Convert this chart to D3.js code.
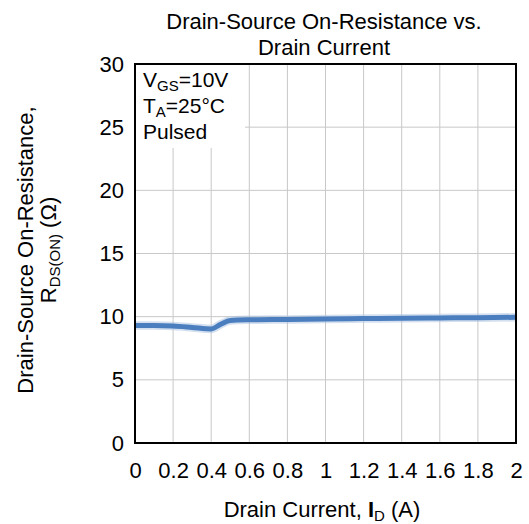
<!DOCTYPE html>
<html>
<head>
<meta charset="utf-8">
<script src="https://cdn.jsdelivr.net/npm/d3@7"></script>
<style>
  body { margin: 0; background: #fff; }
  svg text { font-family: "Liberation Sans", Arial, sans-serif; fill: #000; }
  .grid line { stroke: #c8c8c8; stroke-width: 1; }
</style>
</head>
<body>
<svg class="chart" width="529" height="524"></svg>
<script>
// drain current (A) vs on-resistance (ohm)
var current = [0, 0.1, 0.2, 0.3, 0.4, 0.45, 0.5, 0.6, 0.8, 1.0, 1.2, 1.4, 1.6, 1.8, 2.0];
var resistance = [9.3, 9.3, 9.26, 9.15, 9.03, 9.4, 9.7, 9.75, 9.78, 9.82, 9.85, 9.88, 9.9, 9.92, 9.95];
var xTicks = [0, 0.2, 0.4, 0.6, 0.8, 1, 1.2, 1.4, 1.6, 1.8, 2];
var yTicks = [0, 5, 10, 15, 20, 25, 30];

var svg = d3.select(".chart");
var pLeft = 135, pRight = 516, pTop = 64, pBottom = 443;
var fs = 22, sub = 15;

var x = d3.scaleLinear().domain([0, 2]).range([pLeft, pRight]);
var y = d3.scaleLinear().domain([0, 30]).range([pBottom, pTop]);

// grid
var grid = svg.append("g").attr("class", "grid");
grid.selectAll("line.v")
    .data(xTicks.slice(1, -1))
    .enter().append("line")
      .attr("x1", function(d){ return x(d); })
      .attr("x2", function(d){ return x(d); })
      .attr("y1", pTop)
      .attr("y2", pBottom);
grid.selectAll("line.h")
    .data(yTicks.slice(1, -1))
    .enter().append("line")
      .attr("x1", pLeft)
      .attr("x2", pRight)
      .attr("y1", function(d){ return y(d); })
      .attr("y2", function(d){ return y(d); });

// white box behind the conditions text
svg.append("rect")
   .attr("x", pLeft + 1).attr("y", pTop + 1)
   .attr("width", 109).attr("height", 83)
   .attr("fill", "#fff");

// curve
var line = d3.line()
             .x(function(d, i){ return x(current[i]); })
             .y(function(d){ return y(d); })
             .curve(d3.curveMonotoneX);

svg.append("path")
   .datum(resistance)
   .attr("d", line)
   .attr("fill", "none")
   .attr("stroke", "#a9c1e0")
   .attr("stroke-width", 8.5)
   .attr("stroke-opacity", 0.5)
   .attr("stroke-linejoin", "round");
svg.append("path")
   .datum(resistance)
   .attr("d", line)
   .attr("fill", "none")
   .attr("stroke", "#4a7ebf")
   .attr("stroke-width", 5)
   .attr("stroke-linejoin", "round");

// frame
svg.append("rect")
   .attr("x", pLeft).attr("y", pTop)
   .attr("width", pRight - pLeft).attr("height", pBottom - pTop)
   .attr("fill", "none")
   .attr("stroke", "#000")
   .attr("stroke-width", 2);

// axes (labels only)
var xAxis = svg.append("g")
   .attr("transform", "translate(0," + pBottom + ")")
   .call(d3.axisBottom(x).tickValues(xTicks).tickSize(0).tickPadding(19)
           .tickFormat(function(d){ return String(d); }));
var yAxis = svg.append("g")
   .attr("transform", "translate(" + pLeft + ",0)")
   .call(d3.axisLeft(y).tickValues(yTicks).tickSize(0).tickPadding(11));
[xAxis, yAxis].forEach(function(a){
  a.select(".domain").remove();
  a.selectAll("text").attr("font-size", fs).attr("font-family", "Liberation Sans, Arial, sans-serif");
});

// title
svg.append("text").attr("x", 324).attr("y", 29).attr("text-anchor", "middle")
   .attr("font-size", fs).text("Drain-Source On-Resistance vs.");
svg.append("text").attr("x", 324).attr("y", 55).attr("text-anchor", "middle")
   .attr("font-size", fs).text("Drain Current");

// conditions
var cond = svg.append("g").attr("font-size", 21);
var t1 = cond.append("text").attr("x", 143).attr("y", 87);
t1.append("tspan").text("V");
t1.append("tspan").attr("font-size", sub).attr("dy", 4).text("GS");
t1.append("tspan").attr("dy", -4).text("=10V");
var t2 = cond.append("text").attr("x", 143).attr("y", 113);
t2.append("tspan").text("T");
t2.append("tspan").attr("font-size", sub).attr("dy", 4).text("A");
t2.append("tspan").attr("dy", -4).text("=25°C");
cond.append("text").attr("x", 143).attr("y", 139).text("Pulsed");

// x label
var xl = svg.append("text").attr("x", 322).attr("y", 517).attr("text-anchor", "middle")
            .attr("font-size", fs);
xl.append("tspan").text("Drain Current, ");
xl.append("tspan").attr("font-weight", "bold").text("I");
xl.append("tspan").attr("font-size", sub).attr("dy", 4).text("D");
xl.append("tspan").attr("dy", -4).text(" (A)");

// y label
var yl = svg.append("g").attr("transform", "translate(0,250) rotate(-90)");
yl.append("text").attr("x", 0).attr("y", 33).attr("text-anchor", "middle")
  .attr("font-size", fs).text("Drain-Source On-Resistance,");
var yl2 = yl.append("text").attr("x", 0).attr("y", 56).attr("text-anchor", "middle")
  .attr("font-size", fs);
yl2.append("tspan").text("R");
yl2.append("tspan").attr("font-size", sub).attr("dy", 4).text("DS(ON)");
yl2.append("tspan").attr("dy", -4).text(" (Ω)");
</script>
</body>
</html>
